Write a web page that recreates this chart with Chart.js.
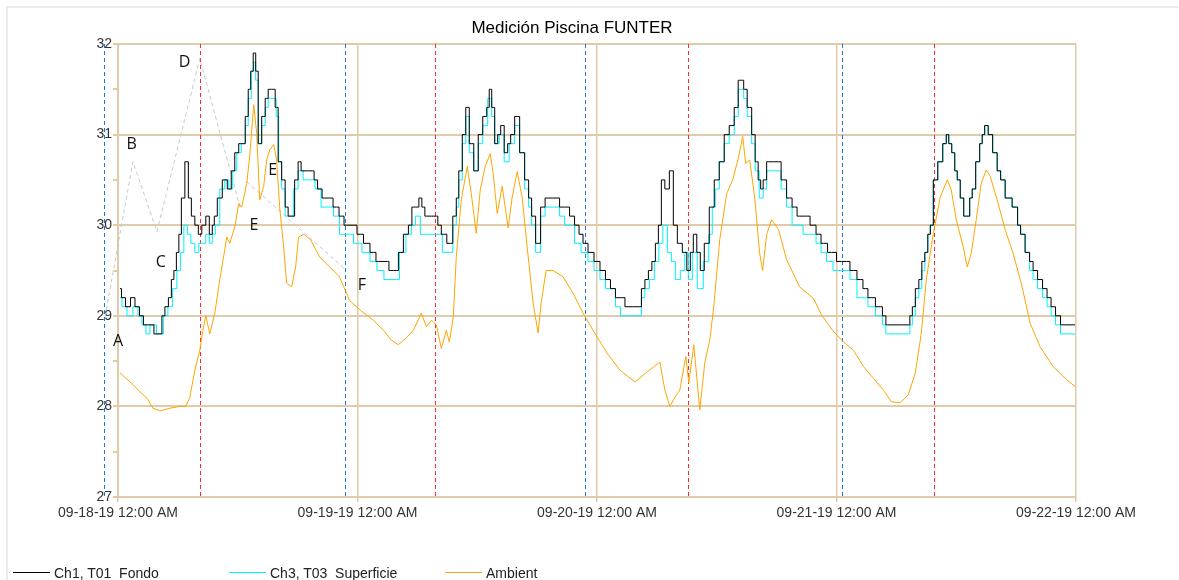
<!DOCTYPE html>
<html>
<head>
<meta charset="utf-8">
<title>Medición Piscina FUNTER</title>
<script src="https://cdn.jsdelivr.net/npm/chart.js@4.4.1/dist/chart.umd.min.js"></script>
<style>
  html, body { margin: 0; padding: 0; background: #fff; }
  body { width: 1179px; height: 580px; position: relative; overflow: hidden; font-family: "Liberation Sans", Arial, sans-serif; }
  #frame { position: absolute; left: 6px; top: 6px; width: 1200px; height: 600px; border: 2px solid #ececec; }
  #myChart { position: absolute; left: 0; top: 0; }
  #title { position: absolute; top: 18px; left: 0; width: 1144px; text-align: center; font-size: 17px; line-height: 20px; color: #000; }
  .leg-line { position: absolute; top: 572px; height: 0; border-top: 1px solid; width: 37px; }
  .leg-text { position: absolute; top: 565px; font-size: 14px; line-height: 17px; color: #222; white-space: pre; }
</style>
</head>
<body>
<div id="frame"></div>
<canvas id="myChart" width="1179" height="580"></canvas>
<div id="title">Medición Piscina FUNTER</div>
<div class="leg-line" style="left:13px;border-color:#000"></div>
<div class="leg-text" style="left:54px">Ch1, T01  Fondo</div>
<div class="leg-line" style="left:229px;border-color:#00f0ff"></div>
<div class="leg-text" style="left:270px">Ch3, T03  Superficie</div>
<div class="leg-line" style="left:445px;border-color:#ffa500"></div>
<div class="leg-text" style="left:486px">Ambient</div>
<script>
// hours since 09-18-19 12:00 AM
const dayLabels = ['09-18-19 12:00 AM', '09-19-19 12:00 AM', '09-20-19 12:00 AM', '09-21-19 12:00 AM', '09-22-19 12:00 AM'];

const fondoHours = [0.2, 0.5, 1.0, 1.5, 1.9, 2.4, 2.7, 3.5, 3.7, 4.3, 4.5, 4.9, 5.2, 5.5, 5.7, 6.0, 6.2, 6.5, 6.9, 7.2, 7.5, 7.9, 8.2, 8.6, 9.0, 9.3, 9.6, 9.7,
  10.2, 10.7, 11.2, 11.5, 11.9, 12.3, 12.6, 12.9, 13.2, 13.4, 13.7, 13.9, 14.2, 14.6, 14.9, 15.2, 15.6, 15.9, 16.2, 16.6, 16.9, 17.2, 17.5, 17.9, 18.2, 18.5, 19.5, 19.8,
  20.2, 20.7, 21.2, 21.9, 22.4, 22.9, 23.6, 24.3, 24.9, 25.6, 26.1, 27.0, 27.3, 27.9, 28.3, 28.9, 29.3, 29.6, 30.0, 30.3, 30.6, 30.9, 31.9, 32.2, 32.6, 33.3, 33.8,
  34.0, 34.3, 34.7, 35.0, 35.4, 35.9, 36.3, 36.8, 37.1, 37.3, 37.6, 37.9, 38.2, 38.5, 38.9, 39.2, 39.5, 40.0, 40.5, 41.0, 41.3, 41.6, 42.1, 42.6, 43.0, 44.0, 44.5,
  45.0, 45.5, 46.0, 46.4, 46.8, 47.4, 48.0, 48.6, 49.1, 49.6, 50.1, 50.6, 51.0, 52.3, 52.6, 53.0, 53.3, 53.7, 54.0, 54.3, 54.6, 55.0, 55.5, 55.8, 56.3, 56.8, 57.2,
  57.5, 57.8, 58.2, 58.5, 59.0, 59.5, 60.0, 60.5, 61.0, 61.5, 62.0, 62.3, 62.6, 62.8, 63.3, 63.7, 64.0, 64.3, 64.5, 64.8, 65.2, 66.2, 66.7, 67.3, 67.8, 68.3, 69.0,
  69.7, 70.2, 70.7, 71.5, 72.5, 73.0, 73.7, 74.4, 74.9, 75.4, 76.4, 76.8, 77.1, 79.2, 79.5, 79.7, 80.1, 80.4, 80.7, 81.0, 81.3, 81.5, 81.9, 82.4, 82.9, 83.1, 83.4,
  83.7, 84.0, 84.2, 84.6, 84.9, 85.2, 85.5, 85.7, 86.2, 86.5, 86.7, 87.0, 87.4, 87.9, 88.3, 88.6, 89.2, 90.0, 90.3, 90.6, 91.2, 91.5, 91.9, 92.4, 92.9, 93.3, 93.7,
  94.2, 94.7, 95.9];
const fondoTemps = [29.3, 29.2, 29.1, 29.2, 29.1, 29.0, 28.9, 28.9, 28.8, 28.8, 29.0, 29.1, 29.2, 29.4, 29.5, 29.7, 29.9, 30.3, 30.7, 30.3, 30.1, 30.0, 29.9, 30.0, 30.1, 29.9, 30.0, 30.1,
  30.3, 30.5, 30.4, 30.6, 30.8, 30.9, 30.9, 31.2, 31.5, 31.7, 31.9, 31.7, 30.9, 31.2, 31.4, 31.5, 31.5, 31.3, 30.7, 30.5, 30.2, 30.1, 30.1, 30.5, 30.7, 30.6, 30.6, 30.5,
  30.4, 30.3, 30.3, 30.2, 30.1, 30.0, 30.0, 29.9, 29.8, 29.7, 29.6, 29.6, 29.5, 29.5, 29.7, 29.9, 30.0, 30.2, 30.2, 30.3, 30.2, 30.1, 30.1, 30.0, 29.9, 29.8, 30.1,
  30.3, 30.6, 31.0, 31.3, 30.9, 30.6, 31.0, 31.2, 31.3, 31.5, 31.3, 30.9, 31.0, 31.1, 30.8, 30.9, 31.0, 31.2, 30.8, 30.5, 30.3, 30.1, 29.8, 30.2, 30.3, 30.3, 30.2,
  30.2, 30.1, 30.0, 29.9, 29.8, 29.7, 29.6, 29.5, 29.4, 29.3, 29.2, 29.2, 29.1, 29.1, 29.3, 29.4, 29.5, 29.6, 29.8, 30.0, 30.5, 30.4, 30.6, 30.0, 29.8, 29.7, 29.5,
  29.7, 29.9, 29.7, 29.5, 29.8, 30.2, 30.5, 30.7, 31.0, 31.1, 31.3, 31.6, 31.6, 31.5, 31.3, 31.0, 30.7, 30.5, 30.4, 30.5, 30.7, 30.7, 30.5, 30.3, 30.2, 30.1, 30.1,
  30.0, 29.9, 29.8, 29.7, 29.6, 29.6, 29.5, 29.4, 29.3, 29.2, 29.1, 29.0, 28.9, 28.9, 29.0, 29.1, 29.3, 29.4, 29.6, 29.7, 29.9, 30.0, 30.5, 30.7, 30.9, 31.0, 30.9,
  30.8, 30.6, 30.5, 30.3, 30.1, 30.1, 30.3, 30.4, 30.7, 30.9, 31.0, 31.1, 31.0, 30.8, 30.6, 30.5, 30.3, 30.2, 30.0, 29.9, 29.7, 29.6, 29.5, 29.4, 29.3, 29.2, 29.1,
  29.0, 28.9, 28.9];

const superficieHours = [0.2, 0.6, 1.2, 1.8, 2.2, 2.6, 3.0, 3.4, 4.3, 4.8, 5.2, 5.7, 6.1, 6.4, 6.8, 7.1, 7.5, 7.9, 8.3, 8.6, 9.0, 9.3, 9.6, 9.9, 10.5, 10.9, 11.3, 11.7,
  12.1, 12.6, 12.9, 13.2, 13.5, 13.7, 13.9, 14.2, 14.6, 14.9, 15.2, 15.7, 16.0, 16.2, 16.6, 16.9, 17.4, 17.8, 18.3, 18.8, 19.5, 20.0, 20.7, 21.3, 21.9, 22.5, 23.2,
  24.0, 24.9, 25.6, 26.3, 27.0, 27.9, 28.5, 29.2, 29.6, 30.0, 30.6, 31.3, 32.3, 32.7, 33.3, 33.8, 34.0, 34.3, 34.7, 35.0, 35.4, 35.9, 36.3, 36.8, 37.3, 37.6, 37.9,
  38.5, 38.9, 39.5, 40.0, 40.5, 41.0, 41.3, 41.6, 42.1, 42.6, 43.0, 44.0, 44.5, 45.0, 45.5, 46.0, 46.8, 47.4, 48.0, 48.6, 49.1, 49.6, 50.1, 50.6, 52.3, 52.6, 53.0,
  53.5, 54.0, 54.4, 54.8, 55.3, 55.6, 56.1, 56.6, 57.0, 57.3, 57.8, 58.3, 59.0, 59.4, 59.7, 60.0, 60.5, 61.0, 61.5, 62.0, 62.3, 62.6, 62.8, 63.3, 63.7, 64.0, 64.5,
  64.8, 65.2, 66.2, 66.7, 67.3, 67.8, 68.3, 69.0, 69.7, 70.2, 70.7, 71.3, 72.0, 73.0, 73.7, 74.4, 74.9, 75.4, 76.4, 76.8, 77.1, 79.2, 79.5, 79.7, 80.1, 80.4, 80.7,
  81.0, 81.3, 81.5, 81.9, 82.4, 82.9, 83.1, 83.4, 83.7, 84.0, 84.2, 84.6, 84.9, 85.2, 85.5, 85.7, 86.2, 86.5, 86.7, 87.0, 87.4, 87.9, 88.3, 88.6, 89.2, 90.0, 90.3,
  90.6, 91.2, 91.5, 91.9, 92.4, 92.9, 93.3, 93.7, 94.2, 94.7, 95.9];
const superficieTemps = [29.2, 29.1, 29.0, 29.1, 29.0, 28.9, 28.8, 28.9, 28.8, 29.0, 29.1, 29.3, 29.5, 29.7, 30.0, 29.9, 29.8, 29.7, 29.8, 29.8, 29.9, 29.8, 29.9, 30.0, 30.4, 30.5, 30.4, 30.6,
  30.8, 30.9, 31.1, 31.4, 31.7, 31.8, 31.6, 30.9, 31.1, 31.3, 31.4, 31.4, 31.2, 30.7, 30.4, 30.1, 30.1, 30.4, 30.6, 30.5, 30.5, 30.4, 30.2, 30.2, 30.1, 29.9, 29.9,
  29.8, 29.7, 29.6, 29.5, 29.4, 29.4, 29.7, 29.9, 30.0, 30.1, 29.9, 29.9, 29.9, 29.7, 29.7, 30.0, 30.2, 30.5, 30.9, 31.2, 30.8, 30.6, 30.9, 31.1, 31.4, 31.2, 30.9,
  31.0, 30.7, 30.9, 31.1, 30.8, 30.4, 30.2, 30.0, 29.7, 30.1, 30.2, 30.2, 30.1, 30.0, 30.0, 29.8, 29.7, 29.6, 29.5, 29.4, 29.3, 29.3, 29.1, 29.0, 29.0, 29.2, 29.3,
  29.4, 29.6, 29.8, 30.0, 29.7, 29.6, 29.4, 29.5, 29.7, 29.4, 29.7, 29.3, 29.6, 29.9, 30.2, 30.4, 30.7, 30.9, 31.0, 31.2, 31.5, 31.5, 31.4, 31.2, 30.9, 30.6, 30.3,
  30.4, 30.6, 30.6, 30.4, 30.2, 30.0, 30.0, 29.9, 29.9, 29.8, 29.7, 29.6, 29.5, 29.5, 29.4, 29.2, 29.2, 29.1, 29.0, 28.9, 28.8, 28.8, 28.9, 29.0, 29.2, 29.3, 29.5,
  29.7, 29.9, 30.0, 30.5, 30.7, 30.9, 31.0, 30.9, 30.8, 30.6, 30.5, 30.3, 30.1, 30.1, 30.3, 30.4, 30.7, 30.9, 31.0, 31.1, 31.0, 30.8, 30.6, 30.5, 30.3, 30.2, 30.0,
  29.9, 29.7, 29.5, 29.4, 29.3, 29.2, 29.1, 29.0, 28.9, 28.8, 28.8];

const ambientHours = [0.2, 0.8, 1.5, 2.2, 2.9, 3.5, 4.2, 5.2, 6.2, 6.8, 7.2, 7.7, 8.2, 8.5, 8.8, 9.2, 9.7, 10.2, 10.7, 10.9, 11.2, 11.7, 12.1, 12.4, 12.9, 13.2, 13.6,
  13.9, 14.2, 14.6, 14.9, 15.2, 15.6, 15.9, 16.2, 16.6, 16.9, 17.4, 17.8, 18.1, 18.6, 19.3, 20.2, 21.2, 22.2, 23.2, 24.3, 25.6, 26.6, 27.4, 28.1, 28.9, 29.6, 30.4,
  30.9, 31.4, 31.9, 32.4, 32.9, 33.2, 33.6, 33.9, 34.4, 35.0, 35.4, 35.9, 36.3, 36.8, 37.3, 37.6, 38.0, 38.5, 39.1, 39.5, 40.0, 40.5, 41.0, 41.6, 42.1, 42.4, 42.9,
  43.6, 44.6, 45.6, 46.6, 47.6, 49.0, 50.3, 51.8, 52.9, 54.3, 54.8, 55.3, 55.8, 56.3, 56.9, 57.2, 57.7, 58.3, 58.8, 59.3, 59.7, 60.3, 61.0, 61.6, 62.2, 62.6, 62.9,
  63.3, 63.8, 64.3, 64.6, 65.0, 65.5, 66.2, 67.0, 68.3, 69.7, 70.5, 71.6, 72.7, 73.7, 74.7, 75.7, 76.7, 77.5, 78.4, 79.2, 79.9, 80.5, 81.0, 81.7, 82.4, 83.1, 83.5,
  84.0, 84.7, 85.1, 85.5, 86.0, 86.5, 87.0, 87.4, 88.1, 88.9, 89.7, 90.6, 91.4, 92.4, 93.7, 95.1, 95.9];
const ambientTemps = [28.37, 28.31, 28.24, 28.16, 28.09, 27.98, 27.95, 27.98, 28.0, 28.0, 28.1, 28.4, 28.62, 28.84, 29.0, 28.8, 29.03, 29.4, 29.73, 29.87, 29.8, 29.98, 30.24, 30.2, 30.46, 30.76, 31.33,
  31.01, 30.28, 30.43, 30.72, 30.83, 30.89, 30.72, 30.2, 29.76, 29.36, 29.32, 29.54, 29.87, 29.9, 29.84, 29.65, 29.54, 29.43, 29.17, 29.06, 28.95, 28.84, 28.73, 28.68, 28.76, 28.84, 29.03,
  28.88, 28.95, 28.9, 28.64, 28.84, 28.71, 28.99, 29.65, 30.28, 30.65, 30.35, 29.91, 30.39, 30.65, 30.79, 30.57, 30.13, 30.43, 29.97, 30.31, 30.59, 30.31, 29.76, 29.14, 28.81, 29.14, 29.5,
  29.5, 29.43, 29.25, 29.03, 28.84, 28.59, 28.4, 28.27, 28.37, 28.49, 28.18, 28.0, 28.1, 28.18, 28.55, 28.26, 28.68, 27.96, 28.48, 28.73, 29.1, 29.84, 30.35, 30.5, 30.76, 30.98, 30.68,
  30.72, 30.31, 29.69, 29.5, 29.9, 30.06, 29.95, 29.62, 29.32, 29.19, 29.01, 28.84, 28.71, 28.62, 28.44, 28.31, 28.18, 28.05, 28.04, 28.13, 28.37, 28.81, 29.4, 29.91, 30.31, 30.5, 30.39,
  30.06, 29.76, 29.54, 29.69, 30.06, 30.46, 30.61, 30.54, 30.28, 29.95, 29.69, 29.32, 28.92, 28.66, 28.44, 28.29, 28.22];

// hand-drawn guide lines with letters
const guideHours = [-1.3, 1.5, 3.9, 8.2, 12.3, 12.6, 12.9, 22.7];
const guideTemps = [28.99, 30.70, 29.93, 31.84, 30.17, null, 30.48, 29.52];
const noteLetters = ['A', 'B', 'C', 'D', 'E', 'E', 'F'];
const noteHours = [0.0, 1.37, 4.3, 6.67, 15.49, 13.62, 24.45];
const noteTemps = [28.72, 30.89, 29.59, 31.8, 30.6, 30.0, 29.33];

// dashed vertical markers
const blueMarkers = [-1.4, 22.75, 46.8, 72.55];
const redMarkers = [8.22, 31.77, 57.12, 81.77];

const tan = '#dfcaa9';

function toPoints(hours, temps) {
    return hours.map((h, i) => ({ x: h, y: temps[i] }));
}

const markerPlugin = {
    id: 'markers',
    beforeDatasetsDraw(chart) {
        const { ctx, chartArea, scales } = chart;
        ctx.save();
        ctx.lineWidth = 1;
        ctx.setLineDash([4, 3]);
        [[blueMarkers, '#1f78d6'], [redMarkers, '#ff2a2a']].forEach(([hours, color]) => {
            ctx.strokeStyle = color;
            hours.forEach(h => {
                const px = Math.round(scales.x.getPixelForValue(h)) + 0.5;
                ctx.beginPath();
                ctx.moveTo(px, chartArea.top);
                ctx.lineTo(px, chartArea.bottom);
                ctx.stroke();
            });
        });
        ctx.restore();
    },
    afterDatasetsDraw(chart) {
        const { ctx, scales } = chart;
        ctx.save();
        ctx.font = '16px "Open Sans"';
        ctx.fillStyle = '#111';
        ctx.textAlign = 'center';
        ctx.textBaseline = 'middle';
        noteLetters.forEach((t, i) => {
            ctx.fillText(t, scales.x.getPixelForValue(noteHours[i]), scales.y.getPixelForValue(noteTemps[i]));
        });
        ctx.restore();
    }
};

const config = {
    type: 'line',
    data: {
        datasets: [{
            label: 'Ch1, T01  Fondo',
            data: toPoints(fondoHours, fondoTemps),
            borderColor: '#000',
            borderWidth: 1,
            stepped: 'middle',
            order: 0
        }, {
            label: 'Ch3, T03  Superficie',
            data: toPoints(superficieHours, superficieTemps),
            borderColor: '#00f0ff',
            borderWidth: 1,
            stepped: 'middle',
            order: 1
        }, {
            label: 'Ambient',
            data: toPoints(ambientHours, ambientTemps),
            borderColor: '#ffa500',
            borderWidth: 1,
            order: 2
        }, {
            label: 'guide',
            data: toPoints(guideHours, guideTemps),
            borderColor: '#c8c8c8',
            borderWidth: 1,
            borderDash: [4, 3],
            clip: false,
            order: 3
        }]
    },
    options: {
        responsive: false,
        animation: false,
        elements: { point: { radius: 0 }, line: { tension: 0 } },
        layout: { padding: { top: 44, right: 103, bottom: 0, left: 0 } },
        plugins: { legend: { display: false }, title: { display: false }, tooltip: { enabled: false } },
        scales: {
            x: {
                type: 'linear',
                min: 0,
                max: 96,
                afterFit: s => { s.height = 83; },
                border: { color: tan, width: 2 },
                grid: { color: tan, lineWidth: 1.5, tickLength: 5, tickColor: tan },
                ticks: {
                    stepSize: 24,
                    autoSkip: false,
                    maxRotation: 0,
                    padding: 3,
                    color: '#333',
                    font: { family: '"Liberation Sans", Arial, sans-serif', size: 14 },
                    callback: v => dayLabels[v / 24]
                }
            },
            y: {
                min: 27,
                max: 32,
                afterFit: s => { s.width = 118; },
                border: { color: tan, width: 2 },
                grid: {
                    color: ctx => (ctx.tick && ctx.tick.value % 1 !== 0) ? 'rgba(0,0,0,0)' : tan,
                    lineWidth: 2,
                    tickLength: 5,
                    tickColor: tan
                },
                ticks: {
                    stepSize: 0.5,
                    padding: 1,
                    color: '#333',
                    font: { family: '"Liberation Sans", Arial, sans-serif', size: 14 },
                    callback: v => v % 1 === 0 ? v : ''
                }
            }
        }
    },
    plugins: [markerPlugin]
};

const myChart = new Chart(document.getElementById('myChart'), config);
</script>
</body>
</html>
